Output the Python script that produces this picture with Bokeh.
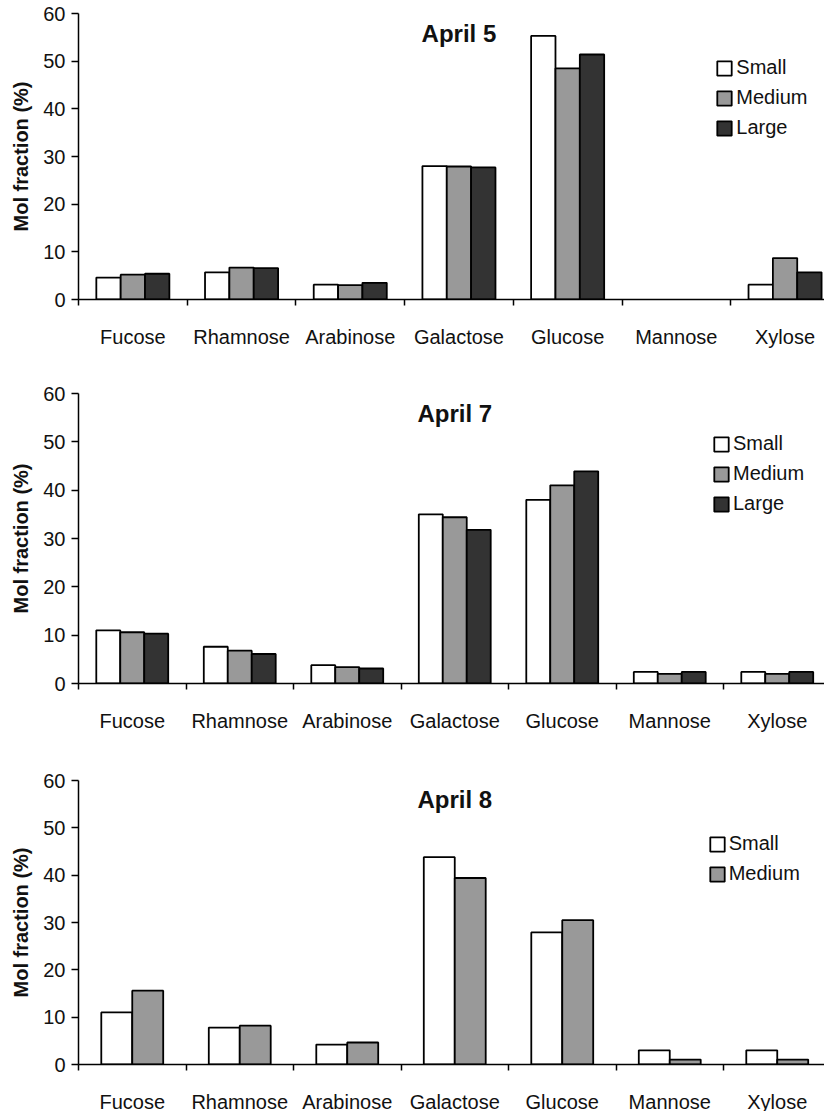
import numpy as np
from bokeh.plotting import figure
from bokeh.models import Range1d, FixedTicker, Label, Legend, LegendItem
from bokeh.layouts import column
from bokeh.embed import file_html
from bokeh.resources import INLINE

categories = ["Fucose", "Rhamnose", "Arabinose", "Galactose", "Glucose", "Mannose", "Xylose"]
y_ticks = [0, 10, 20, 30, 40, 50, 60]
size_names = ["Small", "Medium", "Large"]

apr5_small = [4.6, 5.7, 3.1, 28.0, 55.3, 0.0, 3.1]
apr5_medium = [5.2, 6.7, 3.0, 27.9, 48.5, 0.0, 8.7]
apr5_large = [5.4, 6.6, 3.5, 27.7, 51.4, 0.0, 5.7]

apr7_small = [11.0, 7.6, 3.8, 35.0, 38.0, 2.4, 2.4]
apr7_medium = [10.6, 6.8, 3.4, 34.4, 41.0, 2.0, 2.0]
apr7_large = [10.3, 6.1, 3.1, 31.8, 43.9, 2.4, 2.4]

apr8_small = [11.0, 7.8, 4.2, 43.8, 27.9, 3.0, 3.0]
apr8_medium = [15.6, 8.2, 4.65, 39.4, 30.5, 1.05, 1.05]

FONT = "Liberation Sans"
COLORS = ["#ffffff", "#999999", "#333333"]


def make_panel(title, series, bar_w, left, frame_w, frame_h, top, bottom, cat_px, legend_loc):
    p = figure(x_range=Range1d(0, frame_w / cat_px), y_range=Range1d(0, 60),
               frame_width=frame_w, frame_height=frame_h,
               min_border_left=left, min_border_right=0,
               min_border_top=top, min_border_bottom=bottom,
               output_backend="svg", toolbar_location=None, tools="")
    p.outline_line_color = None
    p.grid.visible = False
    p.background_fill_color = "white"
    p.border_fill_color = "white"

    n = len(series)
    centers = np.arange(len(categories)) + 0.5
    items = []
    for k, vals in enumerate(series):
        off = (k - (n - 1) / 2) * bar_w
        tops = np.array(vals, dtype=float)
        tops[tops == 0] = np.nan  # zero values leave no visible bar
        r = p.vbar(x=centers + off, top=tops, width=bar_w, bottom=0,
                   fill_color=COLORS[k], line_color="black", line_width=1.8)
        items.append(LegendItem(label=size_names[k], renderers=[r]))

    # x axis
    xa = p.xaxis[0]
    xa.ticker = FixedTicker(ticks=list(centers), minor_ticks=list(range(len(categories) + 1)))
    xa.major_label_overrides = {float(c): name for c, name in zip(centers, categories)}
    xa.major_tick_out = 0
    xa.major_tick_in = 0
    xa.minor_tick_out = 6
    xa.minor_tick_in = 0
    xa.minor_tick_line_width = 1.5
    xa.minor_tick_line_color = "black"
    xa.axis_line_width = 1.5
    xa.axis_line_color = "black"
    xa.major_label_standoff = 20
    xa.major_label_text_font = FONT
    xa.major_label_text_font_size = "20px"
    xa.major_label_text_color = "#111111"

    # y axis
    ya = p.yaxis[0]
    ya.ticker = FixedTicker(ticks=y_ticks)
    ya.major_tick_out = 7
    ya.major_tick_in = 0
    ya.minor_tick_out = 0
    ya.minor_tick_in = 0
    ya.major_tick_line_width = 1.5
    ya.major_tick_line_color = "black"
    ya.axis_line_width = 1.5
    ya.axis_line_color = "black"
    ya.major_label_standoff = 6
    ya.major_label_text_font = FONT
    ya.major_label_text_font_size = "20px"
    ya.major_label_text_color = "#111111"
    ya.axis_label = "Mol fraction (%)"
    ya.axis_label_text_font = FONT
    ya.axis_label_text_font_size = "20px"
    ya.axis_label_text_font_style = "bold"
    ya.axis_label_text_color = "#111111"
    ya.axis_label_standoff = 8

    p.add_layout(Label(x=3.5, y=55.9, text=title, text_align="center", text_baseline="middle",
                       text_font=FONT, text_font_size="24px", text_font_style="bold",
                       text_color="#111111"))

    legend = Legend(items=items, location=legend_loc, orientation="vertical",
                    glyph_width=18, glyph_height=18, label_standoff=3,
                    label_height=20, spacing=7, padding=0, margin=0,
                    border_line_color=None, background_fill_alpha=0,
                    label_text_font=FONT, label_text_font_size="20px",
                    label_text_color="#111111")
    p.add_layout(legend)
    return p


p1 = make_panel("April 5", [apr5_small, apr5_medium, apr5_large], 0.224,
                72, 752, 286, 13, 60, 108.7, (644.0, 160.0))
p2 = make_panel("April 7", [apr7_small, apr7_medium, apr7_large], 0.223,
                78, 746, 290, 34, 60, 107.5, (634.0, 168.0))
p3 = make_panel("April 8", [apr8_small, apr8_medium], 0.288,
                76, 748, 284, 37, 36, 107.5, (635.0, 179.0))

layout = column(p1, p2, p3, spacing=0)
open("out.html", "w").write(file_html(layout, INLINE))
